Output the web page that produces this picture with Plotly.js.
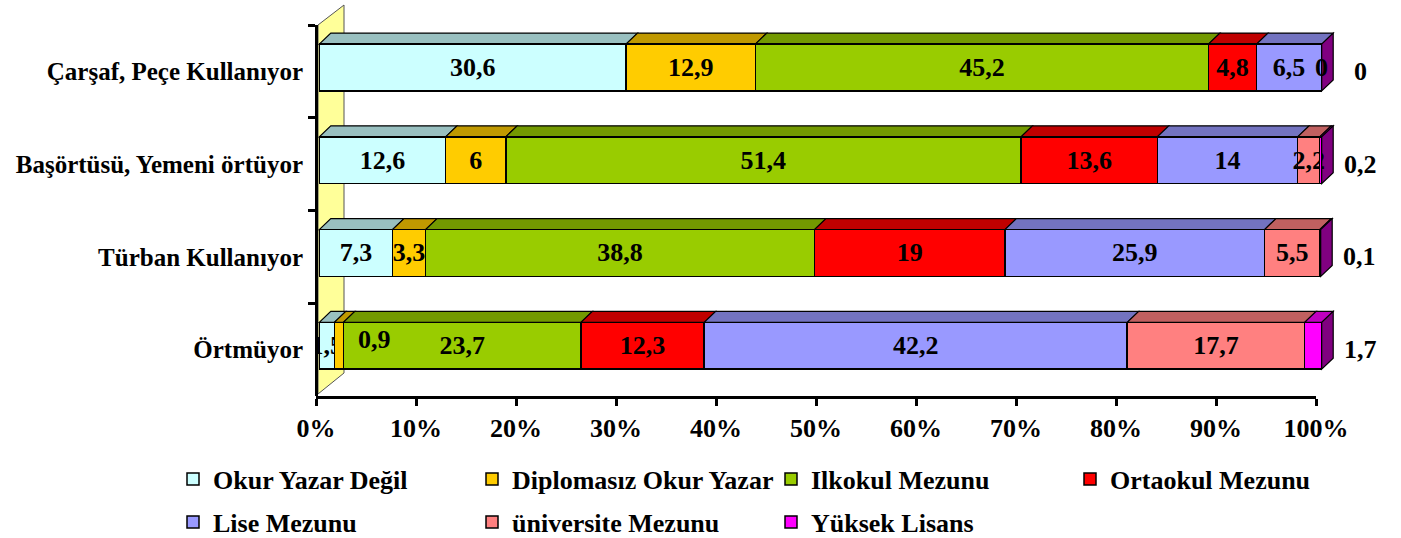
<!DOCTYPE html>
<html><head><meta charset="utf-8">
<script src="https://cdn.plot.ly/plotly-3.0.1.min.js"></script>
<style>html,body{margin:0;padding:0;background:#fff}</style>
</head><body><div id="chart" style="width:1401px;height:538px"></div>
<script>
// ---- data ----
const categories = ['Çarşaf, Peçe Kullanıyor', 'Başörtüsü, Yemeni örtüyor', 'Türban Kullanıyor', 'Örtmüyor'];
const seriesNames = ['Okur Yazar Değil', 'Diplomasız Okur Yazar', 'Ilkokul Mezunu', 'Ortaokul Mezunu', 'Lise Mezunu', 'üniversite Mezunu', 'Yüksek Lisans'];
const okurYazarDegil = [30.6, 12.6, 7.3, 1.5];
const diplomasiz     = [12.9, 6, 3.3, 0.9];
const ilkokul        = [45.2, 51.4, 38.8, 23.7];
const ortaokul       = [4.8, 13.6, 19, 12.3];
const lise           = [6.5, 14, 25.9, 42.2];
const universite     = [0, 2.2, 5.5, 17.7];
const yuksekLisans   = [0, 0.2, 0.1, 1.7];
const xTickVals = [0, 10, 20, 30, 40, 50, 60, 70, 80, 90, 100];
const xTickText = ['0%', '10%', '20%', '30%', '40%', '50%', '60%', '70%', '80%', '90%', '100%'];

// ---- styling ----
const series = [okurYazarDegil, diplomasiz, ilkokul, ortaokul, lise, universite, yuksekLisans];
const frontColors = ['#CCFFFF', '#FFCC00', '#99CC00', '#FF0000', '#9999FF', '#FF8080', '#FF00FF'];
const topColors   = ['#99C0C0', '#C09900', '#739900', '#C00000', '#7373C0', '#C06060', '#C000C0'];
const sideColor = '#800080';
const FONT = 'Liberation Serif, Times New Roman, serif';
const fmt = v => String(v).replace('.', ',');

const L = 316, R = 1395, plotW = R - L, plotH = 371, T = 25;
const barX0 = 319.3;                 // pixel of 0% on the bar front faces
const pxX = 1002.4 / 100;            // px per % on the bar axis
const pxY = plotH / categories.length;
const dX = 11.5 / pxX, dY = 11 / pxY;     // 3D depth offsets
const barW = 0.505, barOff = -0.2525 - 3.9 / pxY;
const lastIdx = series.length - 1;
const px2x = p => (p - barX0) / pxX;
const pxPaperX = p => (p - L) / plotW;
const pxPaperY = p => (T + plotH - p) / plotH;

const traces = series.map((vals, s) => {
  const tp = vals.map((v, i) => {
    if (s === lastIdx) return 'none';
    if (v === 0) return 'none';
    if (s === 1 && i === 3) return 'none'; // label moved (see annotation)
    return 'inside';
  });
  return {
    type: 'bar', orientation: 'h', name: seriesNames[s],
    x: vals, y: categories,
    width: barW, offset: barOff,
    marker: {color: frontColors[s], line: {color: '#000', width: 1.5}},
    text: vals.map(fmt), textposition: tp, insidetextanchor: 'middle', textangle: 0,
    textfont: {family: FONT, size: 26, weight: 'bold', color: '#000'},
    hoverinfo: 'skip',
    legend: s < 4 ? 'legend' : 'legend2',
    xaxis: 'x', yaxis: 'y'
  };
});

// ---- 3D faces ----
const shapes = [];
// invisible marker so that the tick axis (x2) is drawn
shapes.push({type: 'line', xref: 'x2', yref: 'y', layer: 'below', x0: 0, x1: 0, y0: -0.5, y1: -0.5,
  line: {width: 0, color: 'rgba(0,0,0,0)'}});
// yellow side wall (paper coords, so it is not clipped)
shapes.push({type: 'path', xref: 'paper', yref: 'paper', layer: 'below',
  path: `M ${pxPaperX(318)},${pxPaperY(394)} L ${pxPaperX(318)},${pxPaperY(25)} L ${pxPaperX(344)},${pxPaperY(5)} L ${pxPaperX(344)},${pxPaperY(373)} Z`,
  fillcolor: '#FFFF99', line: {color: '#555', width: 1}});
categories.forEach((c, i) => {
  const yt = i + barOff, yb = yt + barW;
  let cum = 0;
  series.forEach((vals, s) => {
    const v = vals[i];
    if (v > 0) {
      const x0 = cum, x1 = cum + v;
      shapes.push({type: 'path', xref: 'x', yref: 'y', layer: 'below',
        path: `M ${x0},${yt} L ${x1},${yt} L ${x1 + dX},${yt - dY} L ${x0 + dX},${yt - dY} Z`,
        fillcolor: topColors[s], line: {color: '#000', width: 1.2}});
    }
    cum += v;
  });
  shapes.push({type: 'path', xref: 'x', yref: 'y', layer: 'below',
    path: `M ${cum},${yt} L ${cum + dX},${yt - dY} L ${cum + dX},${yb - dY} L ${cum},${yb} Z`,
    fillcolor: sideColor, line: {color: '#000', width: 1.2}});
});

// ---- annotations for labels not drawn inside bars ----
const annFont = {family: FONT, size: 26, weight: 'bold', color: '#000'};
const annotations = [];
categories.forEach((c, i) => {
  let cum = 0;
  series.forEach((vals, s) => {
    const v = vals[i];
    if (s === lastIdx) {
      annotations.push({x: cum + v + 3.9, y: c, xref: 'x', yref: 'y', text: fmt(v),
        showarrow: false, font: annFont, xanchor: 'center', yanchor: 'middle'});
    } else if (v === 0) {
      annotations.push({x: cum, y: c, xref: 'x', yref: 'y', text: fmt(v), yshift: 4,
        showarrow: false, font: annFont, xanchor: 'center', yanchor: 'middle'});
    } else if (s === 1 && i === 3) {
      annotations.push({x: cum + v / 2 + 3.6, y: c, xref: 'x', yref: 'y', text: fmt(v), yshift: 10,
        showarrow: false, font: annFont, xanchor: 'center', yanchor: 'middle'});
    }
    cum += v;
  });
});

const legendBase = {orientation: 'h', font: {family: FONT, size: 26, weight: 'bold', color: '#000'},
  bgcolor: 'rgba(0,0,0,0)', xanchor: 'left', yanchor: 'middle', x: pxPaperX(173),
  entrywidth: 254, entrywidthmode: 'pixels', itemwidth: 30, traceorder: 'normal'};

const layout = {
  width: 1401, height: 538,
  margin: {l: L, r: 1401 - R, t: T, b: 538 - T - plotH, autoexpand: false},
  paper_bgcolor: '#fff', plot_bgcolor: 'rgba(0,0,0,0)',
  barmode: 'stack', showlegend: true,
  xaxis: {domain: [0, 1], range: [px2x(L), px2x(R)], visible: false, fixedrange: true},
  xaxis2: {domain: [0, 1000 / plotW], range: [0, 100], anchor: 'y', tickvals: xTickVals, ticktext: xTickText,
    showline: true, linewidth: 3, linecolor: '#000', ticks: 'outside', ticklen: 7, tickwidth: 3, tickcolor: '#000',
    showgrid: false, zeroline: false,
    tickfont: {family: FONT, size: 26, weight: 'bold', color: '#000'}},
  yaxis: {type: 'category', categoryorder: 'array', categoryarray: categories, range: [3.5, -0.5],
    anchor: 'free', position: 0, showline: true, linewidth: 3, linecolor: '#000',
    ticks: 'outside', ticklen: 7, tickwidth: 3, tickcolor: '#000', tickson: 'boundaries',
    ticklabelstandoff: 7, showgrid: false, zeroline: false,
    tickfont: {family: FONT, size: 25, weight: 'bold', color: '#000'}},
  legend: Object.assign({}, legendBase, {y: pxPaperY(479)}),
  legend2: Object.assign({}, legendBase, {y: pxPaperY(522)}),
  uniformtext: {mode: 'show', minsize: 26},
  shapes: shapes, annotations: annotations
};

Plotly.newPlot('chart', traces, layout, {displayModeBar: false, staticPlot: true});
</script></body></html>
